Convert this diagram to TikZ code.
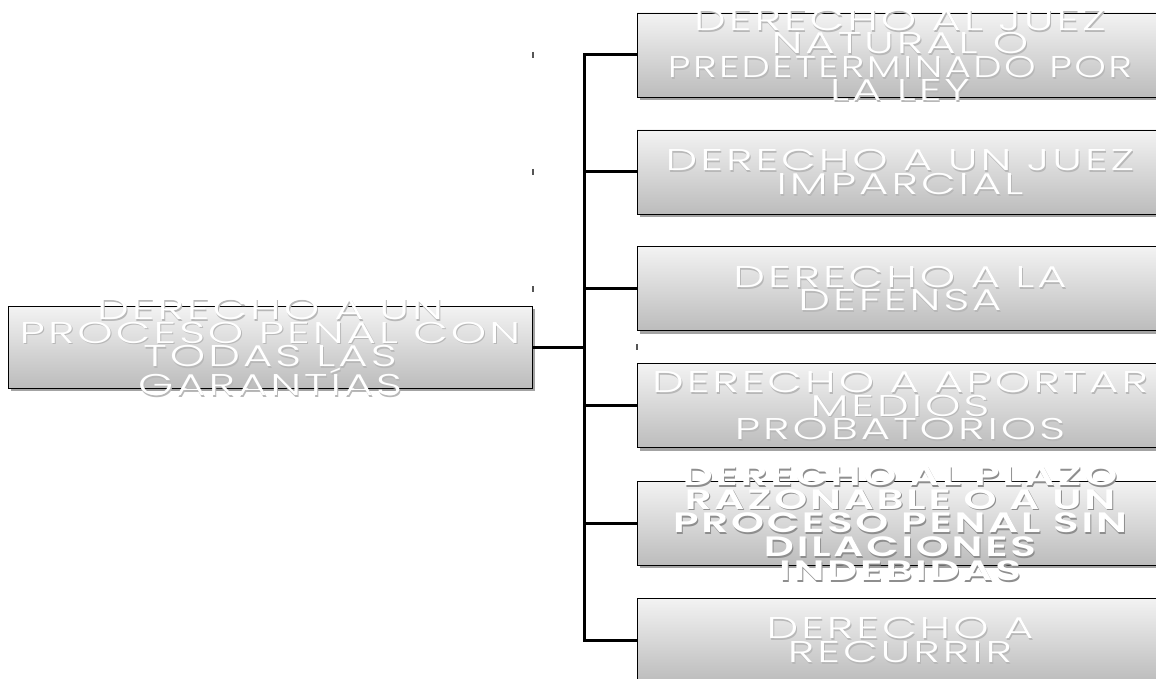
\documentclass[tikz,border=0pt]{standalone}
\usepackage{fontspec}
\newfontfamily\boxfont[FakeStretch=1.5,LetterSpace=10,UprightFont=* Light,BoldFont=* SemiBold]{Poppins}
\newfontfamily\narrowfont[FakeStretch=1.34,LetterSpace=8,UprightFont=* Light]{Poppins}
\usetikzlibrary{shadows}
\definecolor{boxtop}{HTML}{F3F3F3}
\definecolor{boxbot}{HTML}{BCBCBC}
\definecolor{shadowgray}{HTML}{A3A3A3}
\definecolor{txtshadow}{HTML}{B8B8B8}
\definecolor{btxtshadow}{HTML}{8E8E8E}
\definecolor{tickgray}{HTML}{555555}
\newcommand{\labelpair}[5][txt]{%
  \node[#1, text=#2] (#3s) at ([xshift=1pt,yshift=-1.8pt]#4) {#5};
  \node[#1] (#3) at (#4) {#5};}
\tikzset{
  box/.style={draw=black, line width=0.8pt, top color=boxtop, bottom color=boxbot,
    drop shadow={shadow xshift=3pt, shadow yshift=-3pt, fill=shadowgray, opacity=1},
    inner sep=0pt},
  rbox/.style={box, minimum width=526pt, minimum height=84pt},
  txt/.style={font=\boxfont\fontsize{30}{23.5}\selectfont, text=white, align=center, inner sep=0pt},
  btxt/.style={txt, font=\boxfont\bfseries\fontsize{28}{23.8}\selectfont},
  wire/.style={line width=3pt, draw=black},
  tick/.style={line width=1.2pt, draw=tickgray}
}
\begin{document}
\begin{tikzpicture}[x=1pt,y=-1pt]
\useasboundingbox (0,0) rectangle (1156,679);
\clip (0,0) rectangle (1156,679);
% junction
\coordinate (j) at (584,347);
% boxes (positions)
\coordinate (c1) at (900,55);
\coordinate (c2) at (900,172);
\coordinate (c3) at (900,288.5);
\coordinate (c4) at (900,405.5);
\coordinate (c5) at (900,523);
\coordinate (c6) at (900,640);
\node[box, minimum width=524pt, minimum height=82pt] (root) at (270,347) {};
\foreach \i in {1,...,6}{\node[rbox] (b\i) at (c\i) {};}
% connectors
\draw[wire] (root.east) -- (j);
\foreach \i in {1,...,6}{\draw[wire, line join=miter] (j) |- (b\i.west);}
% small marks
\coordinate (m1a) at (533,52); \coordinate (m1b) at (533,58);
\coordinate (m2a) at (533,169); \coordinate (m2b) at (533,175);
\coordinate (m3a) at (533,286); \coordinate (m3b) at (533,292);
\coordinate (m4a) at (637,344); \coordinate (m4b) at (637,350);
\draw[tick] (m1a) -- (m1b);
\draw[tick] (m2a) -- (m2b);
\draw[tick] (m3a) -- (m3b);
\draw[tick] (m4a) -- (m4b);
% texts
\labelpair{txtshadow}{troot}{root.center}{DERECHO A UN\\PROCESO PENAL CON\\TODAS LAS\\GARANTÍAS}
\labelpair{txtshadow}{t1}{b1.center}{DERECHO AL JUEZ\\NATURAL O\\{\narrowfont PREDETERMINADO POR}\\LA LEY}
\labelpair{txtshadow}{t2}{b2.center}{DERECHO A UN JUEZ\\IMPARCIAL}
\labelpair{txtshadow}{t3}{b3.center}{DERECHO A LA\\DEFENSA}
\labelpair{txtshadow}{t4}{b4.center}{DERECHO A APORTAR\\MEDIOS\\PROBATORIOS}
\labelpair[btxt]{btxtshadow}{t5}{b5.center}{DERECHO AL PLAZO\\RAZONABLE O A UN\\PROCESO PENAL SIN\\DILACIONES\\INDEBIDAS}
\labelpair{txtshadow}{t6}{b6.center}{DERECHO A\\RECURRIR}
\end{tikzpicture}
\end{document}
